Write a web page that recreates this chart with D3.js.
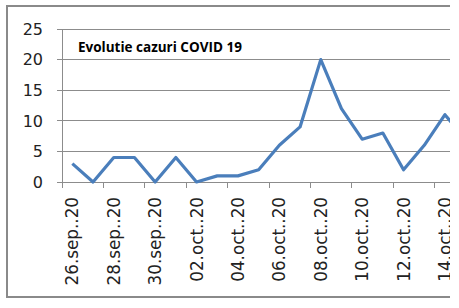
<!DOCTYPE html>
<html>
<head>
<meta charset="utf-8">
<script src="https://cdn.jsdelivr.net/npm/d3@7"></script>
<style>
  body { margin: 0; background: #fff; }
  svg { display: block; }
</style>
</head>
<body>
<svg id="chart" width="459" height="308"></svg>
<script>
// data
const dates = ["26.sep..20", "27.sep..20", "28.sep..20", "29.sep..20", "30.sep..20",
  "01.oct..20", "02.oct..20", "03.oct..20", "04.oct..20", "05.oct..20",
  "06.oct..20", "07.oct..20", "08.oct..20", "09.oct..20", "10.oct..20",
  "11.oct..20", "12.oct..20", "13.oct..20", "14.oct..20", "15.oct..20"];
const cases = [3, 0, 4, 4, 0, 4, 0, 1, 1, 2, 6, 9, 20, 12, 7, 8, 2, 6, 11, 7];
const yTicks = [0, 5, 10, 15, 20, 25];
const title = "Evolutie cazuri COVID 19";

const svg = d3.select("#chart");

// the original picture is cut off on the right
svg.append("clipPath").attr("id", "cut")
  .append("rect").attr("x", 0).attr("y", 0).attr("width", 450).attr("height", 308);

const g = svg.append("g").attr("clip-path", "url(#cut)");

// outer frame
g.append("rect")
  .attr("x", 7).attr("y", 6)
  .attr("width", 500).attr("height", 291)
  .attr("fill", "#fff")
  .attr("stroke", "#8a8a8a")
  .attr("stroke-width", 2);

const x = d3.scaleBand().domain(dates).range([62, 476]);
const y = d3.scaleLinear().domain([0, 25]).range([182, 29]);
const cx = d => x(d) + x.bandwidth() / 2;

// gridlines + y labels
g.selectAll(".grid").data(yTicks).enter().append("line")
  .attr("x1", 57).attr("x2", 476)
  .attr("y1", d => y(d)).attr("y2", d => y(d))
  .attr("stroke", "#8c8c8c").attr("stroke-width", 1)
  .attr("shape-rendering", "crispEdges");

g.selectAll(".ylab").data(yTicks).enter().append("text")
  .attr("x", 43).attr("y", d => y(d))
  .attr("dy", "0.36em")
  .attr("text-anchor", "end")
  .style("font-family", "DejaVu Sans")
  .style("font-size", "16px")
  .attr("fill", "#222")
  .text(d => d);

// y axis line
g.append("line")
  .attr("x1", 62).attr("x2", 62)
  .attr("y1", y(25)).attr("y2", y(0))
  .attr("stroke", "#8c8c8c").attr("shape-rendering", "crispEdges");

// x ticks every 2 categories
const every2 = dates.filter((d, i) => i % 2 == 0);
g.selectAll(".xt").data(every2).enter().append("line")
  .attr("x1", d => x(d)).attr("x2", d => x(d))
  .attr("y1", y(0)).attr("y2", y(0) + 6)
  .attr("stroke", "#8c8c8c").attr("shape-rendering", "crispEdges");

g.selectAll(".xlab").data(every2).enter().append("text")
  .attr("transform", d => "translate(" + cx(d) + ",197) rotate(-90)")
  .attr("dy", "0.36em")
  .attr("text-anchor", "end")
  .style("font-family", "DejaVu Sans")
  .style("font-size", "16.8px")
  .attr("fill", "#222")
  .text(d => d);

// the series
const line = d3.line()
  .x((d, i) => cx(dates[i]))
  .y(d => y(d));

g.append("path")
  .datum(cases)
  .attr("d", line)
  .attr("fill", "none")
  .attr("stroke", "#4a7ebb")
  .attr("stroke-width", 3.2)
  .attr("stroke-linejoin", "round");

// title
g.append("text")
  .attr("x", 78).attr("y", 52)
  .style("font-family", "Open Sans")
  .style("font-weight", "bold")
  .style("font-size", "13.5px")
  .attr("fill", "#000")
  .text(title);
</script>
</body>
</html>
